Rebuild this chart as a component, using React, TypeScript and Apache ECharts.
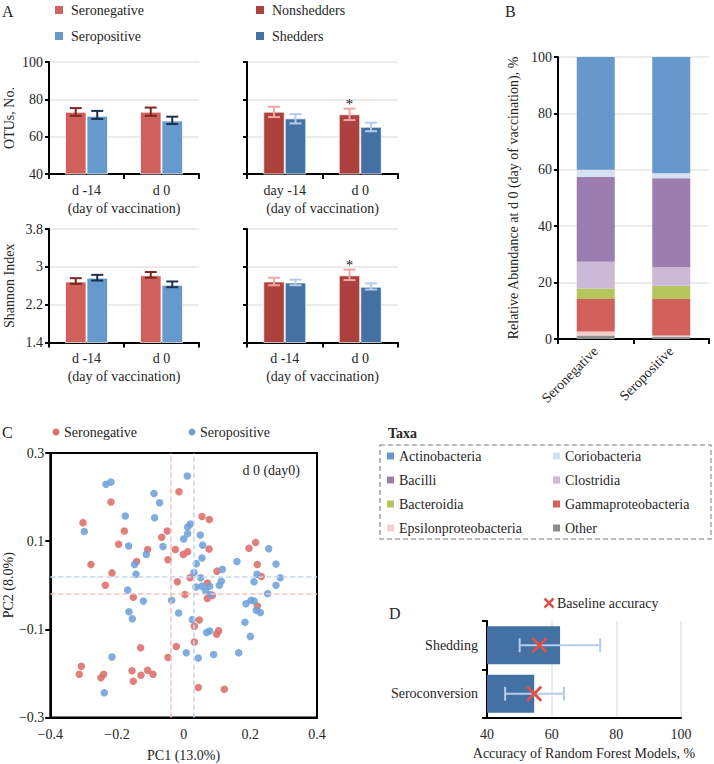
import React, { useEffect, useRef } from 'react';
import * as echarts from 'echarts';

const FONT = "'Liberation Serif', 'DejaVu Serif', serif";
const TXT = '#262626';

// ---------- Panel A data ----------
const timeLabels = ['d -14', 'd 0'];
const timeLabelsOtuShed = ['day -14', 'd 0'];
const otuSeroneg = [73.3, 73.4];
const otuSeronegLo = [71.2, 71.2];
const otuSeronegHi = [75.3, 75.6];
const otuSeropos = [71.2, 68.6];
const otuSeroposLo = [69.5, 66.8];
const otuSeroposHi = [73.8, 70.7];
const otuNonshed = [73.4, 72.0];
const otuNonshedLo = [70.5, 68.9];
const otuNonshedHi = [76.0, 75.0];
const otuShed = [69.8, 65.3];
const otuShedLo = [67.1, 62.9];
const otuShedHi = [72.1, 67.5];
const otuNonshedSig = [false, true];

const shSeroneg = [2.69, 2.82];
const shSeronegLo = [2.64, 2.77];
const shSeronegHi = [2.76, 2.89];
const shSeropos = [2.77, 2.62];
const shSeroposLo = [2.71, 2.57];
const shSeroposHi = [2.83, 2.69];
const shNonshed = [2.69, 2.82];
const shNonshedLo = [2.61, 2.72];
const shNonshedHi = [2.77, 2.94];
const shShed = [2.67, 2.58];
const shShedLo = [2.61, 2.52];
const shShedHi = [2.73, 2.65];
const shNonshedSig = [false, true];

// ---------- Panel B data ----------
const groupsB = ['Seronegative', 'Seropositive'];
const taxaNames = ['Other', 'Epsilonproteobacteria', 'Gammaproteobacteria', 'Bacteroidia', 'Clostridia', 'Bacilli', 'Coriobacteria', 'Actinobacteria'];
const taxaOther = [1.2, 0.8];
const taxaEpsilon = [1.5, 0.4];
const taxaGamma = [11.5, 13.0];
const taxaBacteroidia = [3.7, 4.7];
const taxaClostridia = [9.5, 6.5];
const taxaBacilli = [30.1, 31.6];
const taxaCorio = [2.5, 1.8];
const taxaActino = [40.0, 41.2];
const taxaLegendOrder = ['Actinobacteria', 'Coriobacteria', 'Bacilli', 'Clostridia', 'Bacteroidia', 'Gammaproteobacteria', 'Epsilonproteobacteria', 'Other'];

// ---------- Panel C data ----------
const pcSeroneg: number[][] = [
  [-0.014, 0.212], [-0.218, 0.189], [0.055, 0.156], [0.077, 0.149], [-0.302, 0.142], [-0.049, 0.123],
  [-0.178, 0.123], [-0.066, 0.109], [-0.195, 0.093], [0.076, 0.082], [-0.025, 0.081], [0.012, 0.076],
  [-0.001, 0.070], [-0.108, 0.081], [-0.047, 0.058], [0.196, 0.084], [0.216, 0.097], [0.221, 0.047],
  [-0.278, 0.047], [-0.141, 0.054], [0.100, 0.032], [-0.215, 0.028], [0.233, 0.020], [-0.235, 0.000],
  [-0.019, 0.008], [0.019, 0.017], [0.071, 0.005], [0.086, -0.023], [0.071, -0.030], [-0.151, -0.027],
  [0.004, -0.021], [0.221, -0.047], [0.047, -0.079], [0.032, -0.093], [0.099, -0.111], [0.105, -0.103],
  [0.032, -0.129], [-0.022, -0.139], [-0.129, -0.142], [-0.047, -0.164], [-0.307, -0.184], [-0.313, -0.202],
  [-0.240, -0.202], [-0.248, -0.210], [-0.155, -0.194], [-0.128, -0.204], [-0.108, -0.193], [-0.092, -0.202],
  [-0.151, -0.218], [0.044, -0.232], [0.122, -0.236],
];
const pcSeropos: number[][] = [
  [0.011, 0.248], [-0.233, 0.229], [-0.218, 0.234], [-0.089, 0.208], [-0.072, 0.187], [-0.175, 0.157],
  [-0.087, 0.153], [-0.298, 0.122], [0.020, 0.139], [0.012, 0.132], [0.012, 0.117], [0.050, 0.114],
  [0.000, 0.105], [-0.165, 0.089], [-0.062, 0.088], [0.057, 0.091], [-0.112, 0.070], [0.055, 0.062],
  [0.255, 0.083], [0.160, 0.054], [0.277, 0.048], [-0.147, 0.047], [0.038, 0.049], [0.116, 0.036],
  [-0.143, 0.025], [0.031, 0.029], [0.220, 0.025], [0.051, 0.017], [0.113, 0.009], [0.107, 0.000],
  [0.211, 0.008], [0.290, 0.017], [0.277, 0.000], [0.037, -0.004], [0.055, -0.002], [0.078, -0.002],
  [0.066, -0.013], [0.081, -0.021], [-0.168, -0.011], [-0.121, -0.036], [-0.036, -0.034], [0.252, -0.019],
  [0.187, -0.042], [0.202, -0.034], [0.211, -0.036], [0.218, -0.057], [0.230, -0.062], [-0.164, -0.060],
  [-0.154, -0.076], [-0.015, -0.063], [0.026, -0.078], [0.184, -0.084], [0.200, -0.116], [0.069, -0.107],
  [0.078, -0.104], [-0.215, -0.163], [0.008, -0.153], [0.044, -0.165], [0.090, -0.157], [0.165, -0.153],
  [-0.238, -0.244],
];
const centroidSeroneg = [-0.040, -0.019];
const centroidSeropos = [0.032, 0.016];

// ---------- Panel D data ----------
const models = ['Seroconversion', 'Shedding'];
const accuracy = [54.6, 62.6];
const accuracyLo = [45.6, 50.1];
const accuracyHi = [63.8, 75.0];
const baselineAcc = [54.6, 56.2];

// ---------- colours ----------
const C_SERONEG = '#D0605C';
const C_SEROPOS = '#6699CC';
const C_NONSHED = '#AD413D';
const C_SHED = '#4471A4';
const E_SERONEG = '#7E2522';
const E_SEROPOS = '#1C3350';
const E_NONSHED = '#F2A7A5';
const E_SHED = '#B4CCEB';
const P_RED = '#DD6D68';
const P_BLUE = '#70A0DA';
const TAXA_COLORS: Record<string, string> = {
  Actinobacteria: '#6798CB',
  Coriobacteria: '#D3E1F1',
  Bacilli: '#9B7EAF',
  Clostridia: '#CBB9D7',
  Bacteroidia: '#B4C55E',
  Gammaproteobacteria: '#D2615C',
  Epsilonproteobacteria: '#F3CDCC',
  Other: '#8E8E8E',
};
const GRID_C = '#E6E6E6';

const ts = (extra: any = {}) => ({ color: TXT, fontFamily: FONT, fontSize: 14, ...extra });

const gText = (text: string, x: number, y: number, opts: any = {}) => ({
  type: 'text',
  x,
  y,
  silent: true,
  style: {
    text,
    fill: TXT,
    fontFamily: FONT,
    fontSize: 14,
    align: 'left',
    verticalAlign: 'middle',
    textAlign: 'left',
    textVerticalAlign: 'middle',
    ...opts,
  },
});
const gRect = (x: number, y: number, w: number, h: number, fill: string) => ({
  type: 'rect',
  silent: true,
  shape: { x, y, width: w, height: h },
  style: { fill },
});

const catX = (gridIndex: number, data: string[]) => ({
  type: 'category',
  gridIndex,
  data,
  axisLine: { show: true, lineStyle: { color: '#000', width: 2 } },
  axisTick: { show: true, length: 5, lineStyle: { color: '#000', width: 2 } },
  axisLabel: ts({ margin: 9 }),
  name: '(day of vaccination)',
  nameLocation: 'middle',
  nameGap: 27,
  nameTextStyle: ts(),
});

const valY = (gridIndex: number, min: number, max: number, interval: number, showLabels: boolean, name?: string) => ({
  type: 'value',
  gridIndex,
  min,
  max,
  interval,
  axisLine: { show: true, lineStyle: { color: '#000', width: 2 } },
  axisTick: { show: true, length: 4, lineStyle: { color: '#000', width: 2 } },
  axisLabel: ts({ show: showLabels, margin: 6 }),
  splitLine: { show: true, lineStyle: { color: GRID_C, width: 1.5 } },
  name: name || '',
  nameLocation: 'middle',
  nameGap: 33,
  nameTextStyle: ts(),
});

const barS = (xi: number, name: string, data: number[], color: string) => ({
  type: 'bar',
  name,
  xAxisIndex: xi,
  yAxisIndex: xi,
  data,
  barWidth: 21.5,
  barGap: '0%',
  itemStyle: { color, borderColor: 'rgba(255,255,255,0.7)', borderWidth: 1 },
  silent: true,
});

const errS = (xi: number, lo: number[], hi: number[], offset: number, color: string, sig?: boolean[]) => ({
  type: 'custom',
  xAxisIndex: xi,
  yAxisIndex: xi,
  data: lo.map((l, i) => [i, l, hi[i]]),
  encode: { x: 0, y: [1, 2] },
  z: 5,
  silent: true,
  renderItem: (params: any, api: any) => {
    const i = api.value(0);
    const pLo = api.coord([i, api.value(1)]);
    const pHi = api.coord([i, api.value(2)]);
    const x = pLo[0] + offset;
    const half = 6;
    const st = { stroke: color, lineWidth: 2 };
    const children: any[] = [
      { type: 'line', shape: { x1: x, y1: pLo[1], x2: x, y2: pHi[1] }, style: st },
      { type: 'line', shape: { x1: x - half, y1: pLo[1], x2: x + half, y2: pLo[1] }, style: st },
      { type: 'line', shape: { x1: x - half, y1: pHi[1], x2: x + half, y2: pHi[1] }, style: st },
    ];
    if (sig && sig[params.dataIndex]) {
      children.push({
        type: 'text',
        x,
        y: pHi[1] - 5,
        style: { text: '*', fill: TXT, fontFamily: FONT, fontSize: 15, align: 'center', verticalAlign: 'middle', textAlign: 'center', textVerticalAlign: 'middle' },
      });
    }
    return { type: 'group', children };
  },
});

const fmtMinus = (v: number) => {
  const r = Math.round(v * 10) / 10;
  if (r === 0) return '0';
  return r < 0 ? '\u2212' + String(Math.abs(r)) : String(r);
};

function buildOption(): any {
  const taxaData: Record<string, number[]> = {
    Other: taxaOther,
    Epsilonproteobacteria: taxaEpsilon,
    Gammaproteobacteria: taxaGamma,
    Bacteroidia: taxaBacteroidia,
    Clostridia: taxaClostridia,
    Bacilli: taxaBacilli,
    Coriobacteria: taxaCorio,
    Actinobacteria: taxaActino,
  };

  const graphic: any[] = [];
  // panel letters
  graphic.push(gText('A', 2, 11, { fontSize: 16 }));
  graphic.push(gText('B', 505, 11, { fontSize: 16 }));
  graphic.push(gText('C', 2, 432, { fontSize: 16 }));
  graphic.push(gText('D', 389, 613, { fontSize: 16 }));
  // panel A legends
  const aLeg: [string, string, number, number][] = [
    ['Seronegative', C_SERONEG, 55, 10],
    ['Seropositive', C_SEROPOS, 55, 36],
    ['Nonshedders', C_NONSHED, 256, 10],
    ['Shedders', C_SHED, 256, 36],
  ];
  aLeg.forEach(([t, c, x, y]) => {
    graphic.push(gRect(x, y - 4, 8, 8, c));
    graphic.push(gText(t, x + 16, y));
  });
  // panel C legend
  graphic.push({ type: 'circle', silent: true, shape: { cx: 56, cy: 432, r: 3.5 }, style: { fill: P_RED } });
  graphic.push(gText('Seronegative', 64, 432));
  graphic.push({ type: 'circle', silent: true, shape: { cx: 192, cy: 432, r: 3.5 }, style: { fill: P_BLUE } });
  graphic.push(gText('Seropositive', 200, 432));
  graphic.push(gText('d 0 (day0)', 300, 470, { align: 'right', textAlign: 'right' }));
  // taxa legend
  graphic.push(gText('Taxa', 388, 433, { fontWeight: 'bold' }));
  graphic.push({
    type: 'rect',
    silent: true,
    shape: { x: 380, y: 445, width: 331, height: 94 },
    style: { fill: 'none', stroke: '#A6A6A6', lineWidth: 1.5, lineDash: [5, 3] },
  });
  taxaLegendOrder.forEach((name, k) => {
    const col = k % 2;
    const row = Math.floor(k / 2);
    const x = col === 0 ? 387 : 553;
    const y = 456 + row * 24;
    graphic.push(gRect(x, y - 3.5, 7, 7, TAXA_COLORS[name]));
    graphic.push(gText(name, x + 12, y));
  });
  // panel D legend
  graphic.push({ type: 'line', silent: true, shape: { x1: 544.5, y1: 598.5, x2: 553.5, y2: 607.5 }, style: { stroke: '#D9534F', lineWidth: 2.5 } });
  graphic.push({ type: 'line', silent: true, shape: { x1: 544.5, y1: 607.5, x2: 553.5, y2: 598.5 }, style: { stroke: '#D9534F', lineWidth: 2.5 } });
  graphic.push(gText('Baseline accuracy', 557, 603));

  const taxaSeries = taxaNames.map((n) => ({
    type: 'bar',
    name: n,
    xAxisIndex: 4,
    yAxisIndex: 4,
    stack: 'taxa',
    data: taxaData[n],
    barWidth: 38,
    itemStyle: { color: TAXA_COLORS[n] },
    silent: true,
  }));

  return {
    animation: false,
    backgroundColor: '#ffffff',
    textStyle: { fontFamily: FONT },
    grid: [
      { left: 49, top: 62, width: 150, height: 112 },
      { left: 247, top: 62, width: 151, height: 112 },
      { left: 49, top: 229, width: 150, height: 113.5 },
      { left: 247, top: 229, width: 151, height: 113.5 },
      { left: 558, top: 57, width: 151, height: 282 },
      { left: 49, top: 453, width: 268, height: 264.5, show: true, borderColor: '#000', borderWidth: 2, backgroundColor: 'transparent' },
      { left: 487, top: 621, width: 194, height: 97 },
    ],
    xAxis: [
      catX(0, timeLabels),
      catX(1, timeLabelsOtuShed),
      catX(2, timeLabels),
      catX(3, timeLabels),
      {
        type: 'category',
        gridIndex: 4,
        data: groupsB,
        axisLine: { show: true, lineStyle: { color: '#000', width: 2 } },
        axisTick: { show: true, length: 5, lineStyle: { color: '#000', width: 2 } },
        axisLabel: ts({ rotate: 45, margin: 10 }),
      },
      {
        type: 'value',
        gridIndex: 5,
        min: -0.4,
        max: 0.4,
        interval: 0.2,
        axisLine: { show: true, onZero: false, lineStyle: { color: '#000', width: 2 } },
        axisTick: { show: false },
        axisLabel: ts({ margin: 10, formatter: fmtMinus }),
        splitLine: { show: false },
        name: 'PC1 (13.0%)',
        nameLocation: 'middle',
        nameGap: 31,
        nameTextStyle: ts(),
      },
      {
        type: 'value',
        gridIndex: 6,
        min: 40,
        max: 100,
        interval: 20,
        axisLine: { show: true, lineStyle: { color: '#000', width: 2 } },
        axisTick: { show: false },
        axisLabel: ts({ margin: 9 }),
        splitLine: { show: true, lineStyle: { color: GRID_C, width: 1.5 } },
        name: 'Accuracy of Random Forest Models, %',
        nameLocation: 'middle',
        nameGap: 28,
        nameTextStyle: ts(),
      },
    ],
    yAxis: [
      valY(0, 40, 100, 20, true, 'OTUs, No.'),
      valY(1, 40, 100, 20, false),
      valY(2, 1.4, 3.8, 0.8, true, 'Shannon Index'),
      valY(3, 1.4, 3.8, 0.8, false),
      { ...valY(4, 0, 100, 20, true, 'Relative Abundance at d 0 (day of vaccination), %'), nameGap: 38 },
      {
        type: 'value',
        gridIndex: 5,
        min: -0.3,
        max: 0.3,
        interval: 0.2,
        axisLine: { show: true, onZero: false, lineStyle: { color: '#000', width: 2 } },
        axisTick: { show: true, length: 5, lineStyle: { color: '#000', width: 2 } },
        axisLabel: ts({ margin: 6, formatter: fmtMinus }),
        splitLine: { show: false },
        name: 'PC2 (8.0%)',
        nameLocation: 'middle',
        nameGap: 34,
        nameTextStyle: ts(),
      },
      {
        type: 'category',
        gridIndex: 6,
        data: models,
        axisLine: { show: true, lineStyle: { color: '#000', width: 2 } },
        axisTick: { show: true, length: 5, lineStyle: { color: '#000', width: 2 } },
        axisLabel: ts({ margin: 9 }),
      },
    ],
    graphic,
    series: [
      // A: OTUs
      barS(0, 'Seronegative', otuSeroneg, C_SERONEG),
      barS(0, 'Seropositive', otuSeropos, C_SEROPOS),
      errS(0, otuSeronegLo, otuSeronegHi, -10.75, E_SERONEG),
      errS(0, otuSeroposLo, otuSeroposHi, 10.75, E_SEROPOS),
      barS(1, 'Nonshedders', otuNonshed, C_NONSHED),
      barS(1, 'Shedders', otuShed, C_SHED),
      errS(1, otuNonshedLo, otuNonshedHi, -10.75, E_NONSHED, otuNonshedSig),
      errS(1, otuShedLo, otuShedHi, 10.75, E_SHED),
      // A: Shannon
      barS(2, 'Seronegative', shSeroneg, C_SERONEG),
      barS(2, 'Seropositive', shSeropos, C_SEROPOS),
      errS(2, shSeronegLo, shSeronegHi, -10.75, E_SERONEG),
      errS(2, shSeroposLo, shSeroposHi, 10.75, E_SEROPOS),
      barS(3, 'Nonshedders', shNonshed, C_NONSHED),
      barS(3, 'Shedders', shShed, C_SHED),
      errS(3, shNonshedLo, shNonshedHi, -10.75, E_NONSHED, shNonshedSig),
      errS(3, shShedLo, shShedHi, 10.75, E_SHED),
      // B
      ...taxaSeries,
      // C
      {
        type: 'scatter',
        name: 'Seronegative PCoA',
        xAxisIndex: 5,
        yAxisIndex: 5,
        data: pcSeroneg,
        symbolSize: 7.5,
        itemStyle: { color: P_RED, opacity: 0.88 },
        silent: true,
        markLine: {
          silent: true,
          symbol: 'none',
          label: { show: false },
          lineStyle: { color: '#F3C0BF', type: [5, 3], width: 1.6 },
          data: [{ xAxis: centroidSeroneg[0] }, { yAxis: centroidSeroneg[1] }],
        },
      },
      {
        type: 'scatter',
        name: 'Seropositive PCoA',
        xAxisIndex: 5,
        yAxisIndex: 5,
        data: pcSeropos,
        symbolSize: 7.5,
        itemStyle: { color: P_BLUE, opacity: 0.88 },
        silent: true,
        markLine: {
          silent: true,
          symbol: 'none',
          label: { show: false },
          lineStyle: { color: '#C3D6EE', type: [5, 3], width: 1.6 },
          data: [{ xAxis: centroidSeropos[0] }, { yAxis: centroidSeropos[1] }],
        },
      },
      // D
      {
        type: 'bar',
        name: 'Accuracy',
        xAxisIndex: 6,
        yAxisIndex: 6,
        data: accuracy,
        barWidth: 38,
        itemStyle: { color: C_SHED },
        silent: true,
      },
      {
        type: 'custom',
        xAxisIndex: 6,
        yAxisIndex: 6,
        data: accuracyLo.map((l, i) => [l, accuracyHi[i], i]),
        encode: { x: [0, 1], y: 2 },
        z: 5,
        silent: true,
        renderItem: (params: any, api: any) => {
          const i = api.value(2);
          const pLo = api.coord([api.value(0), i]);
          const pHi = api.coord([api.value(1), i]);
          const y = pLo[1];
          const half = 7;
          const st = { stroke: E_SHED, lineWidth: 2 };
          return {
            type: 'group',
            children: [
              { type: 'line', shape: { x1: pLo[0], y1: y, x2: pHi[0], y2: y }, style: st },
              { type: 'line', shape: { x1: pLo[0], y1: y - half, x2: pLo[0], y2: y + half }, style: st },
              { type: 'line', shape: { x1: pHi[0], y1: y - half, x2: pHi[0], y2: y + half }, style: st },
            ],
          };
        },
      },
      {
        type: 'custom',
        xAxisIndex: 6,
        yAxisIndex: 6,
        data: baselineAcc.map((v, i) => [v, i]),
        encode: { x: 0, y: 1 },
        z: 6,
        silent: true,
        renderItem: (params: any, api: any) => {
          const p = api.coord([api.value(0), api.value(1)]);
          const h = 7;
          const st = { stroke: '#D9534F', lineWidth: 3 };
          return {
            type: 'group',
            children: [
              { type: 'line', shape: { x1: p[0] - h, y1: p[1] - h, x2: p[0] + h, y2: p[1] + h }, style: st },
              { type: 'line', shape: { x1: p[0] - h, y1: p[1] + h, x2: p[0] + h, y2: p[1] - h }, style: st },
            ],
          };
        },
      },
    ],
  };
}

export default function App() {
  const ref = useRef<HTMLDivElement>(null);
  useEffect(() => {
    if (!ref.current) return;
    const chart = echarts.init(ref.current, undefined, { renderer: 'svg' });
    chart.setOption(buildOption());
    return () => {
      chart.dispose();
    };
  }, []);
  return (
    <div
      ref={ref}
      style={{ position: 'absolute', left: 0, top: 0, width: 714, height: 764, background: '#ffffff' }}
    />
  );
}
